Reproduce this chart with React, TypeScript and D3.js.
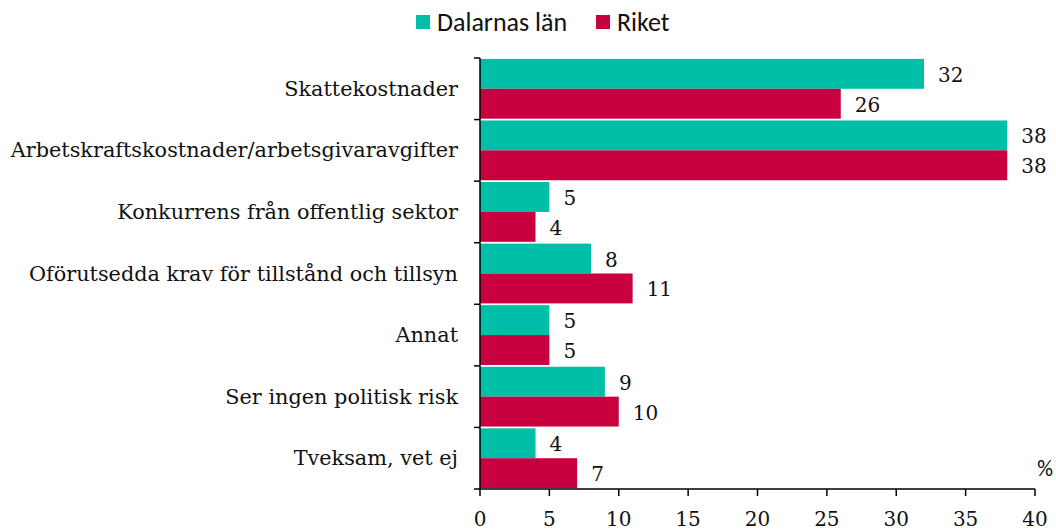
import React from "react";
import * as d3 from "d3";

const categories = [
  "Skattekostnader",
  "Arbetskraftskostnader/arbetsgivaravgifter",
  "Konkurrens från offentlig sektor",
  "Oförutsedda krav för tillstånd och tillsyn",
  "Annat",
  "Ser ingen politisk risk",
  "Tveksam, vet ej",
];
const seriesNames = ["Dalarnas län", "Riket"];
const dalarna = [32, 38, 5, 8, 5, 9, 4];
const riket = [26, 38, 4, 11, 5, 10, 7];
const xTicks = [0, 5, 10, 15, 20, 25, 30, 35, 40];
const colors = ["#00BFA8", "#C8003F"];

const W = 1056;
const H = 531;
const margin = { left: 480, right: 20, top: 58, bottom: 42 };
const serif = "Georgia, 'DejaVu Serif', 'Liberation Serif', serif";
const sans = "Calibri, Carlito, 'Open Sans', 'Liberation Sans', sans-serif";

export default function App() {
  const x = d3.scaleLinear().domain([0, 40]).range([margin.left, 1035]);
  const y = d3.scaleBand<string>().domain(categories).range([margin.top, 489]).paddingInner(0).paddingOuter(0);
  const inner = d3.scaleBand<string>().domain(seriesNames).range([0, y.bandwidth()]).paddingInner(0).paddingOuter(0.03);
  const series = [dalarna, riket];
  const y0 = 489;

  return (
    <svg width={W} height={H} style={{ position: "absolute", left: 0, top: 0, background: "#fff" }}>
      {/* legend */}
      <g>
        <rect x={416} y={15} width={14} height={14} fill={colors[0]} />
        <text x={437} y={31} fontFamily={sans} fontSize={26} fill="#111">{seriesNames[0]}</text>
        <rect x={596} y={15} width={14} height={14} fill={colors[1]} />
        <text x={617} y={31} fontFamily={sans} fontSize={26} fill="#111">{seriesNames[1]}</text>
      </g>
      {/* bars */}
      {categories.map((c, i) => (
        <g key={c}>
          {series.map((s, j) => {
            const by = (y(c) as number) + (inner(seriesNames[j]) as number);
            const bh = inner.bandwidth();
            return (
              <g key={j}>
                <rect x={x(0)} y={by} width={x(s[i]) - x(0)} height={bh} fill={colors[j]} />
                <text x={x(s[i]) + 14} y={by + bh / 2 + 8} fontFamily={serif} fontSize={20} fill="#111">
                  {s[i]}
                </text>
              </g>
            );
          })}
          <text
            x={458}
            y={(y(c) as number) + y.bandwidth() / 2 + 7}
            textAnchor="end"
            fontFamily={serif}
            fontSize={20.8}
            fill="#111"
          >
            {c}
          </text>
        </g>
      ))}
      {/* y axis */}
      <line x1={x(0)} x2={x(0)} y1={margin.top} y2={y0} stroke="#000" strokeWidth={1.5} />
      {categories.map((c) => (
        <line key={c} x1={x(0) - 6} x2={x(0)} y1={y(c)} y2={y(c)} stroke="#000" strokeWidth={1.5} />
      ))}
      <line x1={x(0) - 6} x2={x(0)} y1={y0} y2={y0} stroke="#000" strokeWidth={1.5} />
      {/* x axis */}
      <line x1={x(0)} x2={x(40)} y1={y0} y2={y0} stroke="#000" strokeWidth={1.5} />
      {xTicks.map((t) => (
        <g key={t}>
          <line x1={x(t)} x2={x(t)} y1={y0} y2={y0 + 7} stroke="#000" strokeWidth={1.5} />
          <text x={x(t)} y={y0 + 37} textAnchor="middle" fontFamily={serif} fontSize={20} fill="#111">
            {t}
          </text>
        </g>
      ))}
      <text x={1045} y={476} textAnchor="middle" fontFamily={sans} fontSize={22} fill="#111">%</text>
    </svg>
  );
}
